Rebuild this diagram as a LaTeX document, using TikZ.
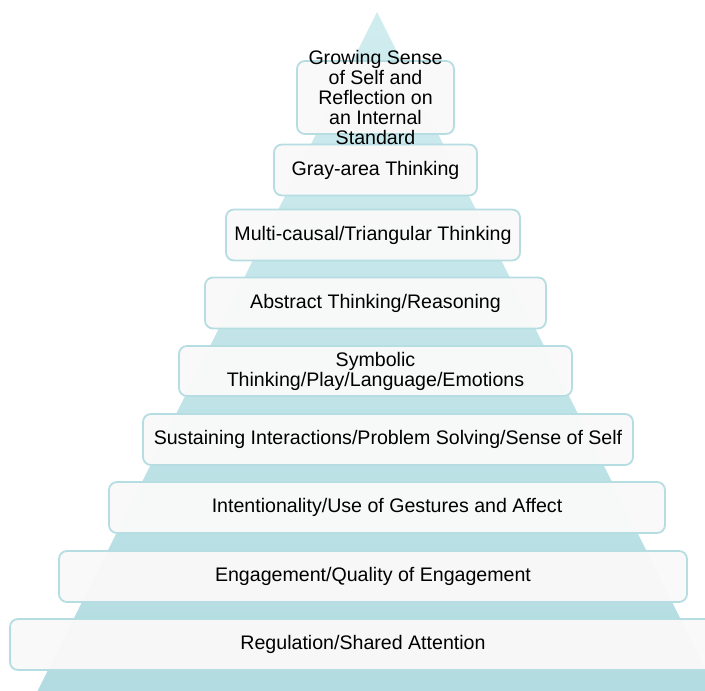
\documentclass[tikz,border=0pt]{standalone}
\usepackage{fontspec}
\setmainfont{Liberation Sans}

\definecolor{pyrtop}{RGB}{208,236,239}
\definecolor{pyrbot}{RGB}{178,220,225}
\definecolor{tierline}{RGB}{181,221,226}
\definecolor{tierfill}{RGB}{250,249,249}

\tikzset{
  tier/.style={draw=tierline,line width=1.8pt,fill=tierfill,fill opacity=0.96,
    rounded corners=8pt,minimum height=51pt,inner sep=0pt},
  tierlabel/.style={align=center,font=\fontsize{19.6}{20}\selectfont,text=black,text opacity=1}
}

\begin{document}
\begin{tikzpicture}[x=1pt,y=-1pt]
  \useasboundingbox (0,0) rectangle (705,691);
  \clip (0,0) rectangle (705,691);
  % pyramid behind the tiers
  \shade[top color=pyrtop,bottom color=pyrbot] (377,12) -- (716.5,691) -- (37.5,691) -- cycle;
  % tiers, bottom to top
  \node[tier,minimum width=706pt,label={[tierlabel]center:Regulation/Shared Attention}] (regulation) at (363,644.5) {};
  \node[tier,minimum width=628pt,label={[tierlabel]center:Engagement/Quality of Engagement}] (engagement) at (373,576.5) {};
  \node[tier,minimum width=556pt,label={[tierlabel]center:Intentionality/Use of Gestures and Affect}] (intention) at (387,507.5) {};
  \node[tier,minimum width=490pt,label={[tierlabel]center:Sustaining Interactions/Problem Solving/Sense of Self}] (sustaining) at (388,439.5) {};
  \node[tier,minimum width=393pt,minimum height=50pt,label={[tierlabel]center:{Symbolic\\Thinking/Play/Language/Emotions}}] (symbolic) at (375.5,371) {};
  \node[tier,minimum width=341pt,label={[tierlabel]center:Abstract Thinking/Reasoning}] (abstract) at (375.5,303) {};
  \node[tier,minimum width=294pt,label={[tierlabel]center:Multi-causal/Triangular Thinking}] (multicausal) at (373,235) {};
  \node[tier,minimum width=203pt,label={[tierlabel]center:Gray-area Thinking}] (grayarea) at (375.5,170) {};
  \node[tier,minimum width=157pt,minimum height=73pt,label={[tierlabel]center:{Growing Sense\\of Self and\\Reflection on\\an Internal\\Standard}}] (growing) at (375.5,97.5) {};
\end{tikzpicture}
\end{document}
